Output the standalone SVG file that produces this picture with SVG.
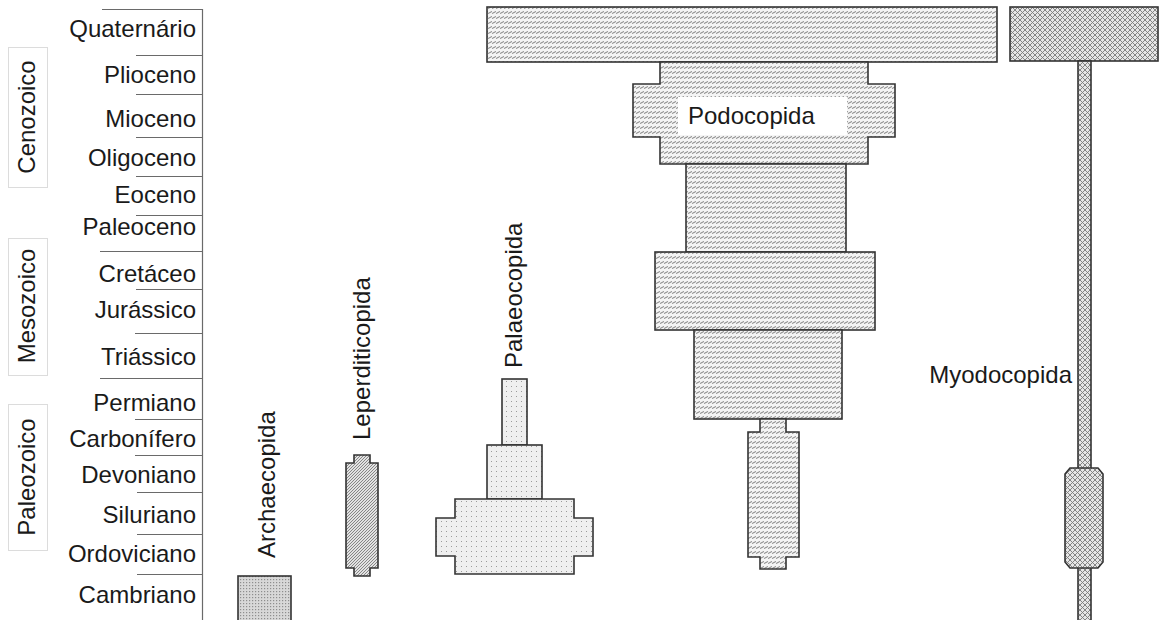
<svg xmlns="http://www.w3.org/2000/svg" width="1160" height="620" viewBox="0 0 1160 620">
<defs>
<style>
text{font-family:"Liberation Sans",Arial,sans-serif;font-size:24px;fill:#1a1a1a}
.per{text-anchor:end}
.sep{stroke:#6a6a6a;stroke-width:1.2;fill:none}
.era{fill:#fff;stroke:#dcdcdc;stroke-width:1}
.sh{stroke:#333;stroke-width:1.6}
.podo{fill:url(#pPodo)}
.myo{fill:url(#pMyo)}
.pal{fill:url(#pPal)}
.lep{fill:url(#pLep)}
.arc{fill:url(#pArc)}
</style>
<pattern id="pPodo" width="4" height="5" patternUnits="userSpaceOnUse">
<rect width="4" height="5" fill="#f4f4f4"/>
<path d="M0,3.5 L4,1.5" stroke="#8a8a8a" stroke-width="1.1"/>
</pattern>
<pattern id="pMyo" width="5" height="5" patternUnits="userSpaceOnUse">
<rect width="5" height="5" fill="#e6e6e6"/>
<path d="M0,5 L5,0 M0,0 L5,5" stroke="#7a7a7a" stroke-width="0.9"/>
</pattern>
<pattern id="pLep" width="3" height="3" patternUnits="userSpaceOnUse">
<rect width="3" height="3" fill="#e2e2e2"/>
<path d="M-0.5,3.5 L3.5,-0.5" stroke="#7c7c7c" stroke-width="0.9"/>
</pattern>
<pattern id="pArc" width="3" height="3" patternUnits="userSpaceOnUse">
<rect width="3" height="3" fill="#d8d8d8"/>
<rect x="0" y="0" width="1.2" height="1.2" fill="#8e8e8e"/>
</pattern>
<pattern id="pPal" width="5" height="5" patternUnits="userSpaceOnUse">
<rect width="5" height="5" fill="#efefef"/>
<rect x="1" y="1" width="1" height="1" fill="#9a9a9a"/>
</pattern>
</defs>
<rect width="1160" height="620" fill="#fff"/>

<g id="eras">
<g id="era-cenozoico"><rect class="era" x="8.5" y="47.5" width="39" height="140"/><text transform="translate(35,117) rotate(-90)" text-anchor="middle">Cenozoico</text></g>
<g id="era-mesozoico"><rect class="era" x="8.5" y="238.5" width="39" height="137"/><text transform="translate(35,306) rotate(-90)" text-anchor="middle">Mesozoico</text></g>
<g id="era-paleozoico"><rect class="era" x="8.5" y="404.5" width="39" height="146"/><text transform="translate(35,477) rotate(-90)" text-anchor="middle">Paleozoico</text></g>
</g>

<g id="connectors">
<path class="sep" d="M202.5,9 V620 M102,9.5 H202 M136,55.5 H202 M136,94.5 H202 M136,137.5 H202 M136,176.5 H202 M136,215.5 H202 M100,251.5 H202 M136,289.5 H202 M135,333.5 H202 M100,378.5 H202 M135,419.5 H202 M135,455.5 H202 M137,492.5 H202 M137,534.5 H202 M137,574.5 H202"/>
</g>

<g id="periods">
<text class="per" x="196" y="37">Quaternário</text>
<text class="per" x="196" y="83">Plioceno</text>
<text class="per" x="196" y="127">Mioceno</text>
<text class="per" x="196" y="166">Oligoceno</text>
<text class="per" x="196" y="203">Eoceno</text>
<text class="per" x="196" y="235">Paleoceno</text>
<text class="per" x="196" y="282">Cretáceo</text>
<text class="per" x="196" y="318">Jurássico</text>
<text class="per" x="196" y="365">Triássico</text>
<text class="per" x="196" y="411">Permiano</text>
<text class="per" x="196" y="447">Carbonífero</text>
<text class="per" x="196" y="483">Devoniano</text>
<text class="per" x="196" y="523">Siluriano</text>
<text class="per" x="196" y="562">Ordoviciano</text>
<text class="per" x="196" y="603">Cambriano</text>
</g>

<g id="archaecopida">
<rect class="sh arc" x="238" y="576" width="53" height="50"/>
<text transform="translate(275,558) rotate(-90)">Archaecopida</text>
</g>

<g id="leperditicopida">
<polygon class="sh lep" points="354,455 370,455 370,463 378,463 378,568 370,568 370,576 354,576 354,568 346,568 346,463 354,463"/>
<text transform="translate(370,440) rotate(-90)">Leperditicopida</text>
</g>

<g id="palaeocopida">
<rect class="sh pal" x="502" y="379" width="25" height="66"/>
<rect class="sh pal" x="487" y="445" width="55" height="54"/>
<polygon class="sh pal" points="455,499 574,499 574,518 593,518 593,556 574,556 574,574 455,574 455,556 436,556 436,518 455,518"/>
<text transform="translate(522,368) rotate(-90)">Palaeocopida</text>
</g>

<g id="podocopida">
<rect class="sh podo" x="487" y="7" width="510" height="55"/>
<polygon class="sh podo" points="660,62 868,62 868,84 895,84 895,137 868,137 868,164 660,164 660,137 633,137 633,84 660,84"/>
<rect x="678" y="97" width="169" height="38" fill="#fff"/>
<text x="688" y="124">Podocopida</text>
<rect class="sh podo" x="686" y="164" width="160" height="88"/>
<rect class="sh podo" x="655" y="252" width="220" height="78"/>
<rect class="sh podo" x="694" y="330" width="148" height="89"/>
<polygon class="sh podo" points="760,419 786,419 786,432 799,432 799,557 786,557 786,569 760,569 760,557 748,557 748,432 760,432"/>
</g>

<g id="myodocopida">
<rect class="sh myo" x="1010" y="7" width="148" height="54"/>
<rect class="sh myo" x="1078" y="61" width="13" height="570"/>
<polygon class="sh myo" points="1070,468 1098,468 1103,474 1103,562 1098,568 1070,568 1065,562 1065,474"/>
<text x="1072" y="383" text-anchor="end">Myodocopida</text>
</g>
</svg>
